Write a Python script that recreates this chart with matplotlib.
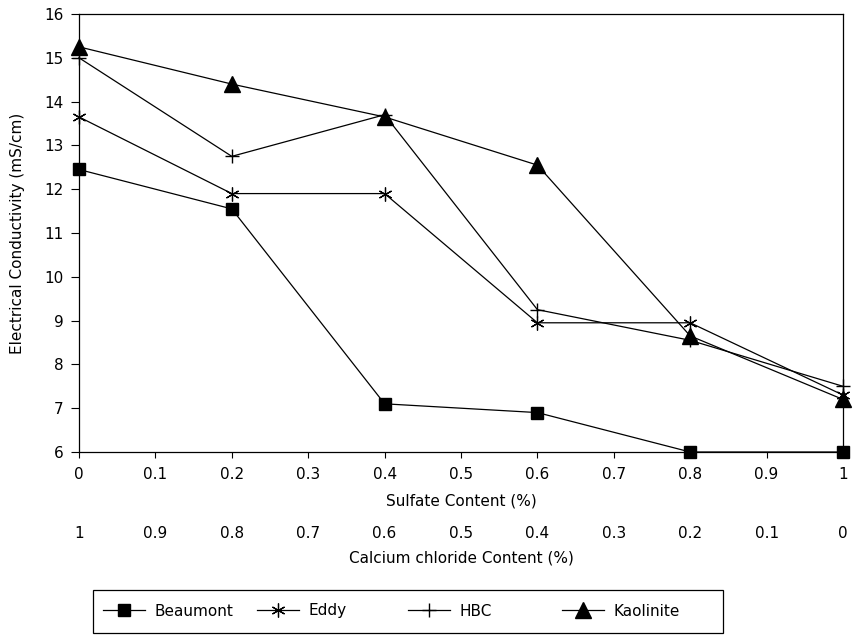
import numpy as np
import matplotlib
matplotlib.use('Agg')
import matplotlib.pyplot as plt
from matplotlib.ticker import FuncFormatter
from matplotlib.patches import Rectangle

# --- data --- #
sulfate = [0, 0.2, 0.4, 0.6, 0.8, 1.0]
beaumont = [12.45, 11.55, 7.1, 6.9, 6.0, 6.0]
eddy = [13.65, 11.9, 11.9, 8.95, 8.95, 7.3]
hbc = [15.0, 12.75, 13.7, 9.25, 8.55, 7.5]
kaolinite = [15.25, 14.4, 13.65, 12.55, 8.65, 7.2]

x_ticks = [0, 0.1, 0.2, 0.3, 0.4, 0.5, 0.6, 0.7, 0.8, 0.9, 1]
y_ticks = [6, 7, 8, 9, 10, 11, 12, 13, 14, 15, 16]

plt.rcParams['font.family'] = 'DejaVu Sans'
plt.rcParams['font.size'] = 11

fig = plt.figure(figsize=(8.59, 6.35), dpi=100)
ax = fig.add_axes([79/859, 1-452/635, (843-79)/859, (452-14)/635])

lw = 0.9
l1, = ax.plot(sulfate, beaumont, color='black', lw=lw, marker='s', markersize=8.5,
              label='Beaumont', clip_on=False, zorder=3)
l2, = ax.plot(sulfate, eddy, color='black', lw=lw, marker=(6, 2, 0), markersize=10,
              markeredgewidth=0.9, label='Eddy', clip_on=False, zorder=3)
l3, = ax.plot(sulfate, hbc, color='black', lw=lw, marker='+', markersize=10,
              markeredgewidth=1.0, label='HBC', clip_on=False, zorder=3)
l4, = ax.plot(sulfate, kaolinite, color='black', lw=lw, marker='^', markersize=12,
              label='Kaolinite', clip_on=False, zorder=3)

ax.set_xlim(0, 1)
ax.set_ylim(6, 16)
ax.set_xticks(x_ticks)
ax.set_yticks(y_ticks)
ax.xaxis.set_major_formatter(FuncFormatter(lambda v, p: '%g' % round(v, 2)))
ax.tick_params(axis='y', direction='out', length=6, width=0.8, pad=5, labelsize=11)
ax.tick_params(axis='x', direction='out', length=4, width=0.8, pad=7, labelsize=11)
for s in ax.spines.values():
    s.set_linewidth(0.9)

ax.set_xlabel('Sulfate Content (%)', fontsize=11, labelpad=8)
ax.set_ylabel('Electrical Conductivity (mS/cm)', fontsize=11, labelpad=14)

# second scale: calcium chloride = 1 - sulfate
sec = ax.secondary_xaxis(-0.16, functions=(lambda v: 1 - v, lambda v: 1 - v))
sec.set_xticks(x_ticks)
sec.xaxis.set_major_formatter(FuncFormatter(lambda v, p: '%g' % round(v, 2)))
sec.tick_params(length=0, labelsize=11, pad=3)
sec.spines['bottom'].set_visible(False)
sec.set_xlabel('Calcium chloride Content (%)', fontsize=11, labelpad=7)

# legend box below, one entry per slot
fig.patches.append(Rectangle((93/859, 2/635), (723-93)/859, (633-590)/635,
                             transform=fig.transFigure, fill=False,
                             edgecolor='black', linewidth=0.9))
slots = [103, 257, 408, 562]
for h, xs in zip([l1, l2, l3, l4], slots):
    fig.legend(handles=[h], loc='center left', bbox_to_anchor=(xs/859, 1-611/635),
               frameon=False, borderpad=0, borderaxespad=0, handlelength=2.75,
               handletextpad=0.6, fontsize=11)

fig.savefig('out.png', dpi=100)
